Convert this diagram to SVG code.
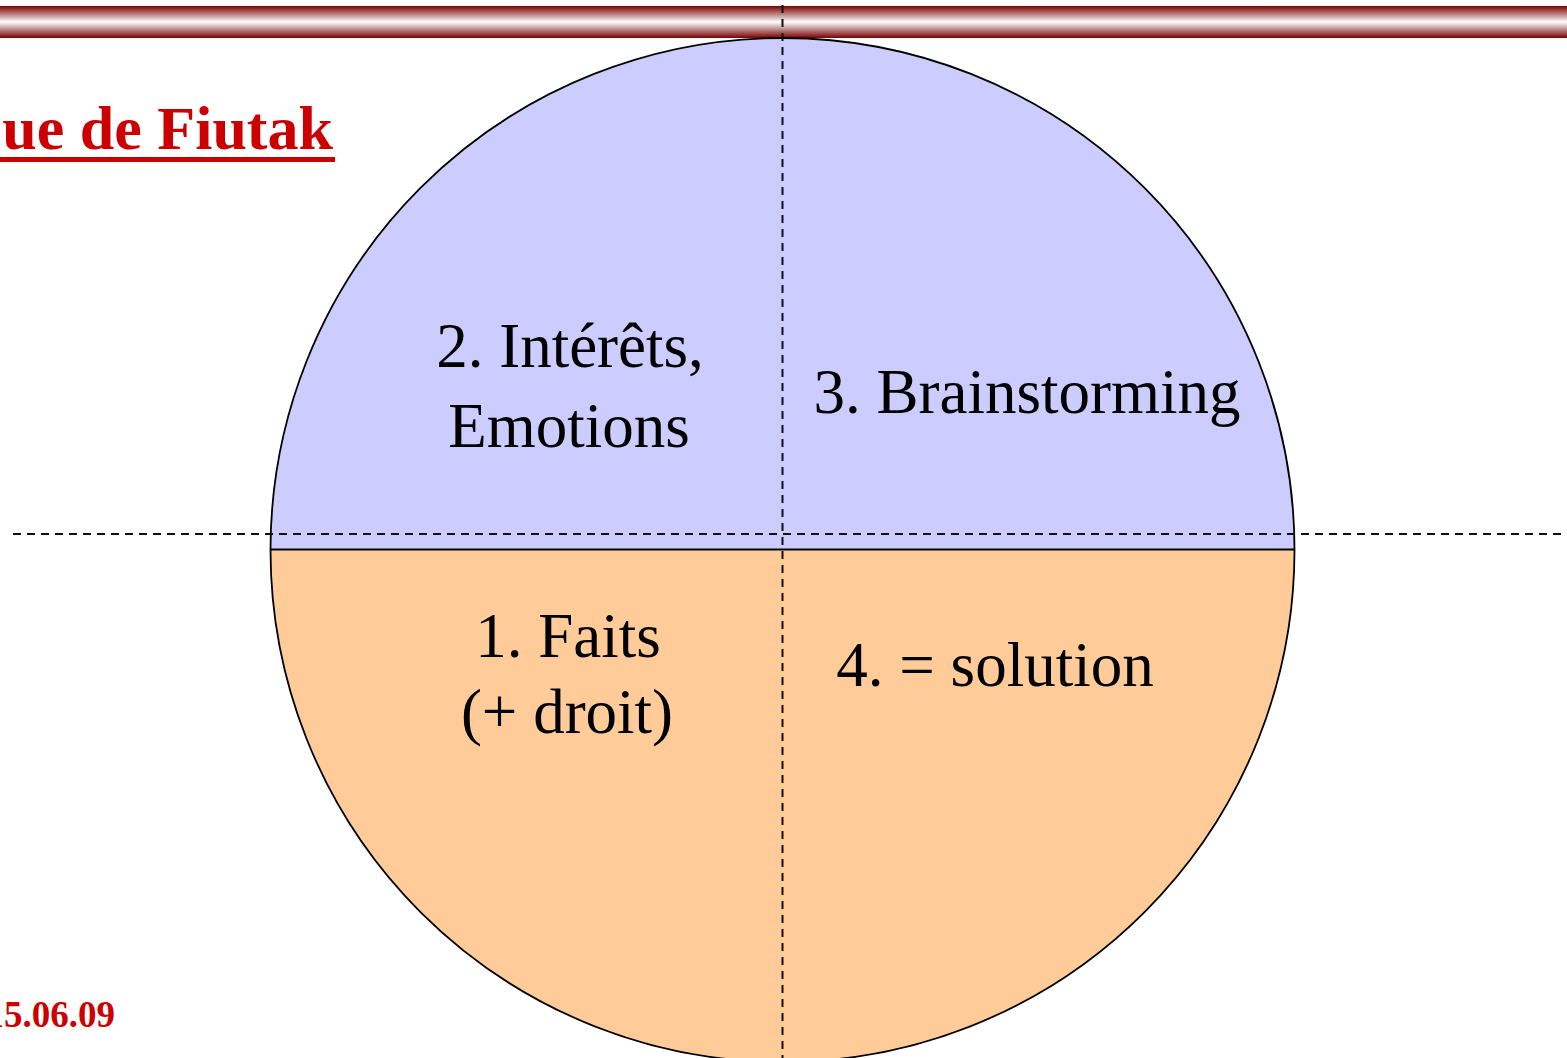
<svg xmlns="http://www.w3.org/2000/svg" width="1567" height="1058" viewBox="0 0 1567 1058">
  <defs>
    <linearGradient id="barGrad" x1="0" y1="0" x2="0" y2="1">
      <stop offset="0" stop-color="#7a0000"/>
      <stop offset="0.25" stop-color="#b88080"/>
      <stop offset="0.5" stop-color="#ffffff"/>
      <stop offset="0.75" stop-color="#b88080"/>
      <stop offset="1" stop-color="#7a0000"/>
    </linearGradient>
  </defs>
  <style>
    .lbl { font-family: "Liberation Serif", "Times New Roman", serif; font-size: 63px; fill: #000; text-anchor: middle; }
    .red { font-family: "Liberation Serif", "Times New Roman", serif; font-weight: bold; fill: #cc0000; }
    .dash { stroke: #111; stroke-width: 2; stroke-dasharray: 8 6; fill: none; }
  </style>
  <rect x="0" y="0" width="1567" height="1058" fill="#ffffff"/>
  <rect id="topbar" x="0" y="6" width="1567" height="32" fill="url(#barGrad)"/>
  <g id="title">
    <text class="red" x="333" y="149" font-size="62" text-anchor="end">ue de Fiutak</text>
    <rect x="0" y="157" width="335" height="5" fill="#cc0000"/>
  </g>
  <g id="date">
    <text class="red" x="115" y="1027" font-size="37" text-anchor="end">15.06.09</text>
  </g>
  <g id="circle">
    <path id="top-half" d="M270.5,550 A512,512 0 0 1 1294.5,550 Z" fill="#ccccff"/>
    <path id="bottom-half" d="M270.5,550 A512,512 0 0 0 1294.5,550 Z" fill="#ffcc99"/>
    <circle cx="782.5" cy="550" r="512" fill="none" stroke="#000" stroke-width="1.8"/>
    <line x1="270.5" y1="549.5" x2="1294.5" y2="549.5" stroke="#000" stroke-width="2"/>
  </g>
  <g id="connectors">
    <line class="dash" x1="782.5" y1="5" x2="782.5" y2="1058"/>
    <line class="dash" x1="13" y1="534" x2="1567" y2="534"/>
  </g>
  <g id="q2">
    <text class="lbl" x="570" y="367">2. Intérêts,</text>
    <text class="lbl" x="569" y="447">Emotions</text>
  </g>
  <g id="q3">
    <text class="lbl" x="1027" y="413">3. Brainstorming</text>
  </g>
  <g id="q1">
    <text class="lbl" x="568" y="657">1. Faits</text>
    <text class="lbl" x="567" y="733">(+ droit)</text>
  </g>
  <g id="q4">
    <text class="lbl" x="995" y="686">4. = solution</text>
  </g>
</svg>
